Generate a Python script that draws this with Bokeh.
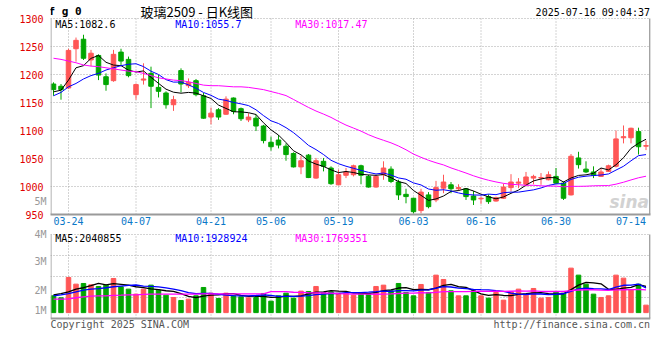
import numpy as np
from bokeh.plotting import figure
from bokeh.models import Range1d, FixedTicker, LinearAxis, Label, ColumnDataSource, Grid
from bokeh.layouts import column
from bokeh.embed import file_html
from bokeh.resources import INLINE

# ---------------- data ----------------
dates = ["03-20", "03-21", "03-24", "03-25", "03-26", "03-27", "03-28", "03-31",
         "04-01", "04-02", "04-03", "04-07", "04-08", "04-09", "04-10", "04-11",
         "04-14", "04-15", "04-16", "04-17", "04-18", "04-21", "04-22", "04-23",
         "04-24", "04-25", "04-28", "04-29", "04-30",
         "05-06", "05-07", "05-08", "05-09", "05-12", "05-13", "05-14", "05-15",
         "05-16", "05-19", "05-20", "05-21", "05-22", "05-23", "05-26", "05-27",
         "05-28", "05-29", "05-30",
         "06-03", "06-04", "06-05", "06-06", "06-09", "06-10", "06-11", "06-12",
         "06-13", "06-16", "06-17", "06-18", "06-19", "06-20", "06-23", "06-24",
         "06-25", "06-26", "06-27", "06-30",
         "07-01", "07-02", "07-03", "07-04", "07-07", "07-08", "07-09", "07-10",
         "07-11", "07-14", "07-15", "07-16"]

open_ = [1183, 1179, 1176, 1246, 1263, 1226, 1234, 1196, 1189, 1240,
         1227, 1164, 1190, 1202, 1177, 1167, 1146, 1207, 1180, 1189,
         1162, 1124, 1137, 1129, 1158, 1139, 1119, 1122, 1108, 1079,
         1083, 1072, 1059, 1035, 1056, 1015, 1045, 1033, 1003, 1020,
         1021, 1037, 1018, 999, 1021, 1031, 1008, 986, 979, 957,
         985, 976, 997, 1003, 996, 996, 983, 978, 982, 974,
         979, 998, 1006, 1004, 1015, 1015, 1012, 1018, 1006, 985,
         1051, 1031, 1026, 1018, 1027, 1036, 1087, 1087, 1098, 1072]
high = [1186, 1183, 1246, 1266, 1271, 1244, 1236, 1202, 1244, 1246,
        1232, 1184, 1220, 1214, 1199, 1170, 1162, 1211, 1193, 1192,
        1167, 1141, 1140, 1161, 1159, 1141, 1131, 1129, 1110, 1089,
        1092, 1077, 1061, 1055, 1058, 1051, 1051, 1036, 1030, 1033,
        1039, 1039, 1021, 1021, 1045, 1036, 1012, 996, 980, 996,
        990, 1010, 1021, 1008, 1004, 997, 992, 982, 986, 982,
        1005, 1022, 1015, 1026, 1021, 1024, 1027, 1033, 1009, 1058,
        1062, 1045, 1036, 1033, 1039, 1100, 1109, 1105, 1105, 1082]
low = [1162, 1155, 1174, 1223, 1226, 1215, 1190, 1171, 1187, 1217,
       1195, 1155, 1182, 1140, 1159, 1139, 1135, 1168, 1176, 1161,
       1121, 1111, 1119, 1128, 1129, 1117, 1115, 1099, 1077, 1064,
       1068, 1046, 1034, 1022, 1015, 1014, 1027, 1003, 1002, 1015,
       1018, 1004, 998, 998, 1012, 1006, 976, 970, 952, 952,
       961, 972, 988, 988, 992, 976, 967, 969, 969, 973,
       978, 991, 997, 1000, 1004, 1003, 1011, 1005, 976, 984,
       1032, 1024, 1015, 1017, 1026, 1034, 1077, 1077, 1057, 1065]
close = [1173, 1173, 1243, 1261, 1229, 1238, 1199, 1182, 1236, 1224,
         1198, 1182, 1192, 1179, 1170, 1146, 1155, 1183, 1186, 1164,
         1122, 1131, 1124, 1156, 1134, 1121, 1124, 1108, 1082, 1071,
         1074, 1057, 1035, 1046, 1016, 1046, 1036, 1005, 1021, 1026,
         1037, 1020, 999, 1018, 1033, 1009, 985, 982, 955, 990,
         964, 998, 1008, 996, 998, 982, 976, 979, 973, 980,
         999, 1008, 1008, 1017, 1018, 1016, 1021, 1006, 979, 1054,
         1039, 1026, 1020, 1026, 1037, 1085, 1089, 1104, 1071, 1073]
volume = [1312000, 1156000, 2744000, 2223000, 2275000, 2171000, 2041000, 2145000, 2666000, 2015000,
          1833000, 1442000, 1833000, 2145000, 1755000, 1364000, 1182000, 947000, 1052000, 1312000,
          1963000, 1520000, 1104000, 1520000, 1312000, 1234000, 1156000, 1182000, 1494000, 895000,
          1312000, 1520000, 1130000, 1677000, 1650000, 2041000, 1572000, 1624000, 1520000, 1520000,
          1364000, 1572000, 1442000, 2041000, 2145000, 1703000, 2275000, 1572000, 1312000, 2197000,
          1572000, 2927000, 2588000, 1703000, 1312000, 1312000, 1703000, 1312000, 1130000, 1572000,
          973000, 1624000, 1833000, 1364000, 1885000, 1130000, 1182000, 1650000, 1520000, 3473000,
          2927000, 2223000, 1442000, 1182000, 1312000, 2927000, 2692000, 1781000, 2223000, 583000]

# moving-average values before enough history is visible
ma5_lead = [1169, 1172, 1190, 1212]
ma10_lead = [1162, 1168, 1178, 1184, 1192, 1198, 1202, 1208, 1212]
ma30_lead = [1229, 1227, 1224, 1221, 1217, 1215, 1214, 1212, 1210, 1208,
             1206, 1205, 1202, 1198, 1194, 1192, 1190, 1189, 1187, 1184,
             1181, 1180, 1180, 1179, 1178, 1178, 1177, 1175, 1173]
vma5_lead = [1390000, 1490000, 1620000, 1830000]
vma10_lead = [1310000, 1390000, 1490000, 1620000, 1750000, 1830000, 1880000, 1940000, 2020000]
vma30_lead = [1050000, 1050000, 1080000, 1160000, 1230000, 1290000, 1310000, 1310000, 1340000, 1360000,
              1390000, 1390000, 1420000, 1440000, 1440000, 1440000, 1440000, 1440000, 1440000, 1440000,
              1470000, 1470000, 1470000, 1470000, 1470000, 1470000, 1470000, 1470000, 1470000]

tick_dates = ["03-24", "04-07", "04-21", "05-06", "05-19", "06-03", "06-16", "06-30", "07-14"]
grid_dates = ["03-24", "04-07", "04-21", "05-06", "05-19", "06-03", "06-16", "06-30"]
price_ticks = [950, 1000, 1050, 1100, 1150, 1200, 1250, 1300]
vol_tick_labels = ["5M", "4M", "3M", "2M", "1M"]
price_ma_text = ["MA5:1082.6", "MA10:1055.7", "MA30:1017.47"]
vol_ma_text = ["MA5:2040855", "MA10:1928924", "MA30:1769351"]
title_text = "玻璃2509 - 日K线图"
code_text = "f g 0"
time_text = "2025-07-16 09:04:37"
copyright_text = "Copyright 2025 SINA.COM"
url_text = "http://finance.sina.com.cn"

# ---------------- styling / geometry ----------------
UP = "#ff5656"
DOWN = "#00a600"
GRID = "#a8a8a8"
AXIS = "#9a9a9a"
MONO = "DejaVu Sans Mono"
MA_COLORS = ["#000000", "#0000ff", "#ff00ff"]

W = 652
XR = (-0.4, 79.6)
FRAME_L, FRAME_R = 50, 650
P_TOP_PX, P_BOT_PX = 18, 214          # pixel rows of 1300 and 950
P1_H = 228
V_TOP_PX, V_BOT_PX = 234, 318         # volume panel box
VHI_AX, VLO_AX = 6.10e6, -0.46e6      # volume values at the box top / bottom
P2_H = 112
PRICE_TOP, PRICE_BOT = 1300, 950


def px_x(px):
    return XR[0] + (px - FRAME_L) * (XR[1] - XR[0]) / (FRAME_R - FRAME_L)


def px_y1(py):
    return PRICE_TOP - (py - P_TOP_PX) * (PRICE_TOP - PRICE_BOT) / (P_BOT_PX - P_TOP_PX)


def px_y2(py):
    return VHI_AX - (py - V_TOP_PX) * (VHI_AX - VLO_AX) / (V_BOT_PX - V_TOP_PX)


def label(fig, x, y, text, color, size="10px", align="left", font=MONO, style="normal"):
    fig.add_layout(Label(x=x, y=y, text=text, text_color=color, text_font_size=size,
                         text_align=align, text_baseline="middle", text_font=font,
                         text_font_style=style))


def style_axis(ax, color, standoff):
    ax.major_tick_out = 0
    ax.major_tick_in = 0
    ax.minor_tick_out = 0
    ax.minor_tick_in = 0
    ax.axis_line_color = None
    ax.major_label_standoff = standoff
    ax.major_label_text_font = MONO
    ax.major_label_text_font_size = "10px"
    ax.major_label_text_color = color


n = len(dates)
idx = list(range(n))


def moving_avg(series, w, lead):
    out = []
    for i in range(len(series)):
        if i >= w - 1:
            out.append(float(np.mean(series[i - w + 1:i + 1])))
        else:
            out.append(lead[i])
    return out


ma5 = moving_avg(close, 5, ma5_lead)
ma10 = moving_avg(close, 10, ma10_lead)
ma30 = moving_avg(close, 30, ma30_lead)
vma5 = moving_avg(volume, 5, vma5_lead)
vma10 = moving_avg(volume, 10, vma10_lead)
vma30 = moving_avg(volume, 30, vma30_lead)

colors = [UP if c >= o else DOWN for o, c in zip(open_, close)]
src = ColumnDataSource(dict(
    x=idx, o=open_, h=high, l=low, c=close,
    top=[max(o, c) for o, c in zip(open_, close)],
    bottom=[min(o, c) for o, c in zip(open_, close)],
    vol=volume, color=colors))

tick_idx = [dates.index(d) for d in tick_dates]
grid_idx = [dates.index(d) for d in grid_dates]

# ---------------- price panel ----------------
p1 = figure(width=W, height=P1_H, x_range=Range1d(*XR), y_range=Range1d(PRICE_BOT, px_y1(0)),
            y_axis_location=None, output_backend="svg", toolbar_location=None,
            min_border_left=FRAME_L, min_border_right=W - FRAME_R, min_border_top=0,
            min_border_bottom=P1_H - P_BOT_PX)
p1.outline_line_color = None
p1.background_fill_color = "white"
p1.border_fill_color = "white"
p1.xgrid.visible = False
p1.ygrid.visible = False

p1.xaxis.ticker = FixedTicker(ticks=tick_idx)
p1.xaxis.major_label_overrides = {i: dates[i] for i in tick_idx}
style_axis(p1.xaxis[0], "#0a78c8", 2)
p1.xaxis.axis_line_color = AXIS
p1.xaxis.axis_line_width = 2

# left side: grey volume label (closest to the plot), then red price labels
p1.extra_y_ranges = {"px": Range1d(-P_BOT_PX, 0)}
vax1 = LinearAxis(y_range_name="px", ticker=FixedTicker(ticks=[-201]),
                  major_label_overrides={-201: vol_tick_labels[0]})
style_axis(vax1, "#999999", 4)
p1.add_layout(vax1, "left")
pax = LinearAxis(ticker=FixedTicker(ticks=price_ticks))
style_axis(pax, "#e00000", -12)
p1.add_layout(pax, "left")

p1.add_layout(Grid(dimension=1, ticker=FixedTicker(ticks=price_ticks[1:]),
                   grid_line_color=GRID, grid_line_dash="1 2", grid_line_width=1))
ng = len(grid_idx)
p1.segment(x0=grid_idx, y0=[PRICE_BOT] * ng, x1=grid_idx, y1=[PRICE_TOP] * ng,
           line_color=GRID, line_dash="1 2", line_width=1)

# watermark
label(p1, px_x(609), px_y1(201), "sina", "#d2d2d2", size="17px", font="DejaVu Sans",
      style="bold italic")

p1.segment(x0="x", y0="h", x1="x", y1="l", line_color="color", line_width=1, source=src)
p1.vbar(x="x", width=0.6, top="top", bottom="bottom", fill_color="color",
        line_color="color", line_width=1, source=src)
for series, col in zip([ma5, ma10, ma30], MA_COLORS):
    p1.line(idx, series, line_color=col, line_width=1)

# panel borders (left / right)
p1.segment(x0=[px_x(50.5), px_x(649.4)], y0=[PRICE_BOT] * 2,
           x1=[px_x(50.5), px_x(649.4)], y1=[PRICE_TOP] * 2,
           line_color=AXIS, line_width=[1, 1.6])

label(p1, px_x(48), px_y1(10.5), code_text, "#000000", size="11px", style="bold")
label(p1, px_x(140), px_y1(10.5), title_text, "#000000", size="13px", font="Noto Sans CJK SC")
label(p1, px_x(649.5), px_y1(11.7), time_text, "#000000", align="right")
for t, col, xp in zip(price_ma_text, MA_COLORS, [54.7, 174.7, 294.7]):
    label(p1, px_x(xp), px_y1(23.5), t, col)

# ---------------- volume panel ----------------
p2 = figure(width=W, height=P2_H, x_range=p1.x_range,
            y_range=Range1d(px_y2(P1_H + P2_H), px_y2(P1_H)),
            x_axis_location=None, y_axis_location=None,
            output_backend="svg", toolbar_location=None,
            min_border_left=FRAME_L, min_border_right=W - FRAME_R,
            min_border_top=0, min_border_bottom=0)
p2.outline_line_color = None
p2.background_fill_color = "white"
p2.border_fill_color = "white"
p2.xgrid.visible = False
p2.ygrid.visible = False

p2.extra_y_ranges = {"px": Range1d(-(P1_H + P2_H), -P1_H)}
vtick = [-232, -261, -290, -310]
vax2 = LinearAxis(y_range_name="px", ticker=FixedTicker(ticks=vtick),
                  major_label_overrides=dict(zip(vtick, vol_tick_labels[1:])))
style_axis(vax2, "#999999", 4)
p2.add_layout(vax2, "left")

p2.add_layout(Grid(dimension=1, y_range_name="px",
                   ticker=FixedTicker(ticks=[-(V_TOP_PX + (V_BOT_PX - V_TOP_PX) * k / 4)
                                             for k in range(4)]),
                   grid_line_color=GRID, grid_line_dash="1 2", grid_line_width=1))
p2.segment(x0=grid_idx, y0=[px_y2(V_BOT_PX)] * ng, x1=grid_idx, y1=[px_y2(V_TOP_PX)] * ng,
           line_color=GRID, line_dash="1 2", line_width=1)

p2.vbar(x="x", width=0.6, top="vol", bottom=0, fill_color="color", line_color="color",
        line_width=1, source=src)
for series, col in zip([vma5, vma10, vma30], MA_COLORS):
    p2.line(idx, series, line_color=col, line_width=1.3)

p2.segment(x0=[px_x(50.5), px_x(649.4), XR[0]],
           y0=[px_y2(V_BOT_PX), px_y2(V_BOT_PX), px_y2(V_BOT_PX)],
           x1=[px_x(50.5), px_x(649.4), XR[1]],
           y1=[px_y2(V_TOP_PX), px_y2(V_TOP_PX), px_y2(V_BOT_PX)],
           line_color=AXIS, line_width=[1, 1.6, 2])

for t, col, xp in zip(vol_ma_text, MA_COLORS, [54.7, 174.7, 294.7]):
    label(p2, px_x(xp), px_y2(237.8), t, col)
label(p2, px_x(50), px_y2(323.7), copyright_text, "#555555")
label(p2, px_x(649.5), px_y2(324), url_text, "#555555", align="right")

layout = column(p1, p2, spacing=0)
open("out.html", "w").write(file_html(layout, INLINE, title="fg0"))
